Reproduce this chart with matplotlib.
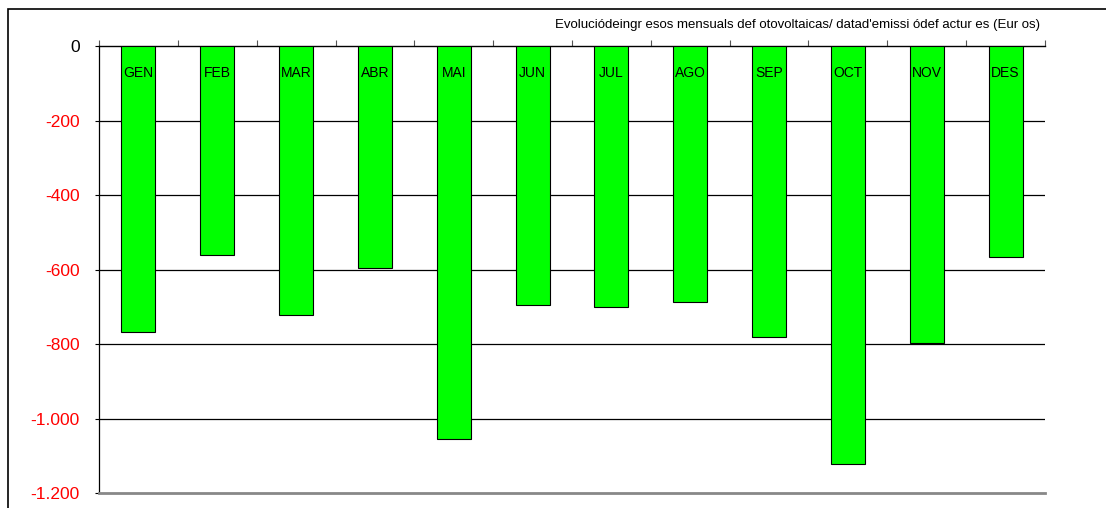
import matplotlib
matplotlib.use("Agg")
import matplotlib.pyplot as plt
from matplotlib.patches import Rectangle
from matplotlib.ticker import FuncFormatter

months = ["GEN", "FEB", "MAR", "ABR", "MAI", "JUN", "JUL", "AGO", "SEP", "OCT", "NOV", "DES"]
values = [-768, -561, -722, -596, -1055, -695, -701, -687, -781, -1122, -797, -566]
yticks = [0, -200, -400, -600, -800, -1000, -1200]
title = "Evoluciódeingr esos mensuals def otovoltaicas/ datad'emissi ódef actur es (Eur os)"

plt.rcParams['font.family'] = ['Liberation Sans', 'DejaVu Sans']

fig = plt.figure(figsize=(11.06, 5.08), dpi=100)
W, H = 1106, 508
ax = fig.add_axes([99 / W, 1 - 493 / H, (1045 - 99) / W, (493 - 46) / H])

x = list(range(len(months)))
ax.bar(x, values, width=0.43, color='#00ff00', edgecolor='black', linewidth=0.8, zorder=3)
ax.set_xlim(-0.5, len(months) - 0.5)
ax.set_ylim(-1200, 0)

for xi, m in zip(x, months):
    ax.text(xi, -72, m, ha='center', va='center', fontsize=10, color='black', zorder=4)

ax.set_yticks(yticks)
ax.yaxis.set_major_formatter(FuncFormatter(lambda v, p: ("%d" % v if v == 0 else "-" + "{:,}".format(int(abs(v))).replace(",", "."))))
ax.tick_params(axis='y', direction='out', length=3, width=0.8, labelsize=12.5, pad=11)
fig.canvas.draw()
for lab in ax.get_yticklabels():
    lab.set_color('black' if lab.get_text() == '0' else 'red')

ax.set_xticks([i + 0.5 for i in range(-1, len(months))])
ax.tick_params(axis='x', which='both', top=True, bottom=False, labeltop=False, labelbottom=False,
               direction='out', length=4, width=0.8, color='#555555')

for v in yticks[1:-1]:
    ax.axhline(v, color='black', linewidth=0.9, zorder=1)

ax.spines['right'].set_visible(False)
ax.spines['top'].set_color('black')
ax.spines['top'].set_linewidth(1.0)
ax.spines['left'].set_color('black')
ax.spines['left'].set_linewidth(0.9)
ax.spines['bottom'].set_color('#888888')
ax.spines['bottom'].set_linewidth(2.0)

fig.text(1040 / W, 1 - 25 / H, title, ha='right', va='center', fontsize=9.5)

# outer frame
fig.add_artist(Rectangle((8 / W, -0.1), 1.2, 1 - 9 / H + 0.1, transform=fig.transFigure,
                         fill=False, edgecolor='black', linewidth=1.2))

fig.savefig("out.png", dpi=100)
